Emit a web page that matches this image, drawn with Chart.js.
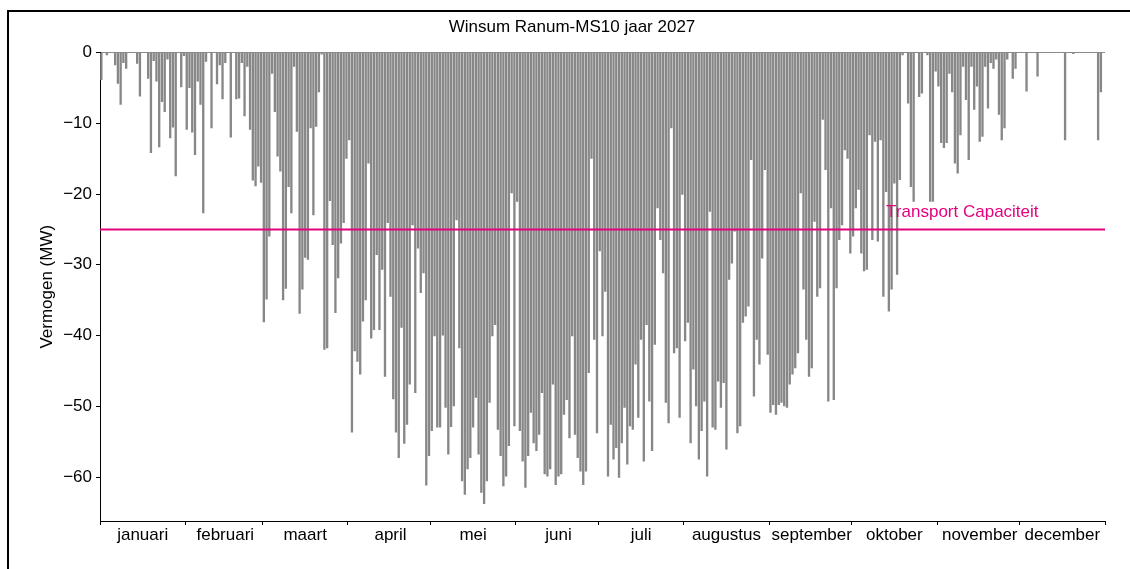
<!DOCTYPE html>
<html>
<head>
<meta charset="utf-8">
<script src="https://cdn.jsdelivr.net/npm/chart.js@4.4.1/dist/chart.umd.min.js"></script>
<style>
  html, body { margin: 0; padding: 0; background: #fff; overflow: hidden; }
  #wrap { position: relative; width: 1130px; height: 569px; }
  #myChart { display: block; }
  #frame { position: absolute; left: 7px; top: 10px; width: 1300px; height: 800px;
           border-top: 2px solid #000; border-left: 2px solid #000; pointer-events: none; }
</style>
</head>
<body>
<div id="wrap">
  <canvas id="myChart" width="1130" height="569"></canvas>
  <div id="frame"></div>
</div>
<script>
const maanden = ['januari', 'februari', 'maart', 'april', 'mei', 'juni', 'juli',
  'augustus', 'september', 'oktober', 'november', 'december'];
const dagenPerMaand = [31, 28, 31, 30, 31, 30, 31, 31, 30, 31, 30, 31];

const dagMinimum = [
  -3.9, 0, -0.4, 0, 0, -1.8, -4.4, -7.4, -1.5, -2.3,
  0, 0, 0, -1.6, -6.2, 0, 0, -3.7, -14.2, -1.2,
  -4.1, -13.4, -7, -8.4, -1, -12.1, -10.6, -17.5, 0, -4.9,
  -0.5, -10.9, -5, -11.3, -14.5, -4.1, -7.4, -22.7, -1.3, 0,
  -10.7, 0, -4.5, -1.8, -6.6, -1.5, 0, -12, 0, -6.6,
  -6.5, -1.5, -9, -2, -10.9, -18.1, -18.9, -16.1, -18.4, -38.1,
  -34.9, -26, -3, -8.4, -14.7, -16.8, -35, -33.4, -19, -22.7,
  -2, -11.2, -36.9, -33.5, -29, -29.3, -10.7, -23, -10.5, -5.6,
  -0.3, -42, -41.8, -21, -27.2, -36.8, -31.9, -27, -24.1, -15,
  -12.4, -53.7, -42.2, -43.7, -45.5, -38, -35, -15.7, -40.4, -39.2,
  -28.6, -39.2, -30.7, -45.8, -24.1, -34.5, -49, -53.7, -57.3, -38.9,
  -55.3, -52.6, -46.9, -24.4, -48.1, -27.7, -34, -31.2, -61.2, -57,
  -53.5, -40.1, -53, -53, -40, -50.2, -56.8, -52.9, -50, -23.7,
  -41.8, -60.6, -62.5, -58.9, -57.3, -53, -48.8, -56.8, -62.2, -63.8,
  -60.6, -49.5, -40.1, -38.5, -53.3, -57, -61.3, -59.9, -55.6, -19.9,
  -52.8, -21.1, -53.5, -57.8, -61.5, -57, -50.9, -55.2, -56.3, -54,
  -48.1, -59.6, -59.9, -58.9, -46.9, -61.1, -59.9, -59.6, -51.2, -49.1,
  -54.5, -40.1, -54, -57.3, -59.2, -61.1, -59.2, -45.3, -15, -40.6,
  -53.8, -28.1, -40.1, -33.8, -59.9, -52.6, -57.5, -55.9, -60.1, -55.2,
  -50.2, -58.2, -52.8, -53.3, -44.1, -51.6, -40.6, -57.8, -38.5, -49.3,
  -56.3, -41.3, -22, -26.5, -31.2, -49.5, -52.4, -10.7, -42.5, -41.8,
  -51.6, -20.1, -40.8, -38.2, -55.2, -44.8, -50, -57.5, -53.5, -49.3,
  -59.9, -22.5, -53, -53.3, -46.5, -50.2, -46.7, -56.1, -32.1, -29.8,
  -25.3, -53.8, -52.8, -38.2, -37.3, -35.9, -15.2, -48.6, -40.6, -44.1,
  -29.1, -16.6, -42.7, -50.9, -49.8, -51.2, -49.8, -49.5, -50, -50.2,
  -46.9, -45.5, -44.6, -42.5, -19.9, -33.5, -40.6, -45.8, -44.6, -23.9,
  -34.5, -33.3, -9.5, -16.6, -49.3, -22, -49.1, -33.3, -26.5, -24.4,
  -13.8, -15, -28.4, -26, -22, -19.4, -28.4, -30.9, -30.7, -11.7,
  -26.5, -12.6, -26.7, -12.4, -34.5, -19.7, -36.6, -33.5, -18.5, -31.4,
  -18, -0.4, 0, -7.2, -19, -21.1, 0, -6.3, -5.8, 0,
  -0.4, -21.1, -21.1, -2.7, -4.8, -12.8, -13.5, -12.8, -3, -5.6,
  -15.7, -17.1, -11.7, -2, -6.7, -15.2, -2, -8.1, -4.8, -12.6,
  -11.9, -2, -7.9, -1.5, -2.3, -1, -8.8, -12.4, -10.7, -1,
  0, -3.7, -2.3, 0, 0, 0, -5.5, 0, 0, 0,
  -3.4, 0, 0, 0, 0, 0, 0, 0, 0, 0,
  -12.4, 0, 0, -0.2, 0, 0, 0, 0, 0, 0,
  0, 0, -12.4, -5.6, 0
];

const yTickWaarden = [0, -10, -20, -30, -40, -50, -60];
const transportCapaciteit = -25;
const labelDag = 285;
const labelWaarde = -23.2;

const FONT = '"Liberation Sans", Arial, sans-serif';
const ROZE = '#e5007e';

// dag labels en maandgrenzen
const dagLabels = [];
const maandStart = [];
let teller = 0;
dagenPerMaand.forEach((n, m) => {
  maandStart.push(teller);
  for (let d = 1; d <= n; d++) dagLabels.push(d + ' ' + maanden[m]);
  teller += n;
});
const maandMidden = maandStart.map((s, m) => s + Math.floor(dagenPerMaand[m] / 2));
const grensSet = new Set(maandStart);

const transportLijn = {
  id: 'transportLijn',
  afterDatasetsDraw(chart) {
    const { ctx, chartArea, scales: { x, y } } = chart;
    const yPix = y.getPixelForValue(transportCapaciteit);
    ctx.save();
    ctx.strokeStyle = ROZE;
    ctx.lineWidth = 2;
    ctx.beginPath();
    ctx.moveTo(chartArea.left, yPix);
    ctx.lineTo(chartArea.right, yPix);
    ctx.stroke();
    ctx.fillStyle = ROZE;
    ctx.font = '17px ' + FONT;
    ctx.textAlign = 'left';
    ctx.textBaseline = 'alphabetic';
    ctx.fillText('Transport Capaciteit', x.getPixelForValue(labelDag), y.getPixelForValue(labelWaarde));
    ctx.restore();
  }
};

Chart.defaults.font.family = FONT;
Chart.defaults.font.size = 17;
Chart.defaults.color = '#000';

const ctx = document.getElementById('myChart').getContext('2d');
const myChart = new Chart(ctx, {
  type: 'bar',
  data: {
    labels: dagLabels,
    datasets: [{
      label: 'Vermogen',
      data: dagMinimum,
      backgroundColor: '#878787',
      barPercentage: 0.85,
      categoryPercentage: 1.0,
    }]
  },
  options: {
    responsive: false,
    animation: false,
    layout: { padding: { left: 39, right: 25, top: 0, bottom: 0 } },
    plugins: {
      legend: { display: false },
      tooltip: { enabled: false },
      title: {
        display: true,
        text: 'Winsum Ranum-MS10 jaar 2027',
        color: '#000',
        font: { size: 17, weight: 'normal' },
        padding: { top: 17.3, bottom: 14.8 },
      },
    },
    scales: {
      x: {
        type: 'category',
        offset: true,
        grid: {
          offset: true,
          drawOnChartArea: false,
          tickLength: 4,
          color: (c) => (c.type !== 'tick' || grensSet.has(c.index)) ? '#000' : 'rgba(0,0,0,0)',
        },
        border: { color: '#000' },
        ticks: {
          autoSkip: false,
          maxRotation: 0,
          minRotation: 0,
          padding: 0,
          color: '#000',
          callback: (v, i) => {
            const m = maandMidden.indexOf(i);
            return m >= 0 ? maanden[m] : '';
          },
        },
        afterFit: (s) => { s.height = 48; },
      },
      y: {
        min: -66.2,
        max: 0,
        grid: {
          color: (c) => (c.tick && c.tick.value === 0) ? '#8a8a8a' : 'rgba(0,0,0,0)',
          tickColor: '#000',
          tickLength: 4,
        },
        border: { color: '#000' },
        ticks: {
          padding: 4,
          color: '#000',
          callback: (v) => v === 0 ? '0' : '\u2212' + Math.abs(v),
        },
        afterBuildTicks: (s) => { s.ticks = yTickWaarden.map(v => ({ value: v })); },
        afterFit: (s) => { s.width = 61; },
        title: {
          display: true,
          text: 'Vermogen (MW)',
          color: '#000',
          font: { size: 17, lineHeight: 1.0 },
          padding: { top: 0, bottom: 0 },
        },
      },
    },
  },
  plugins: [transportLijn],
});
</script>
</body>
</html>
